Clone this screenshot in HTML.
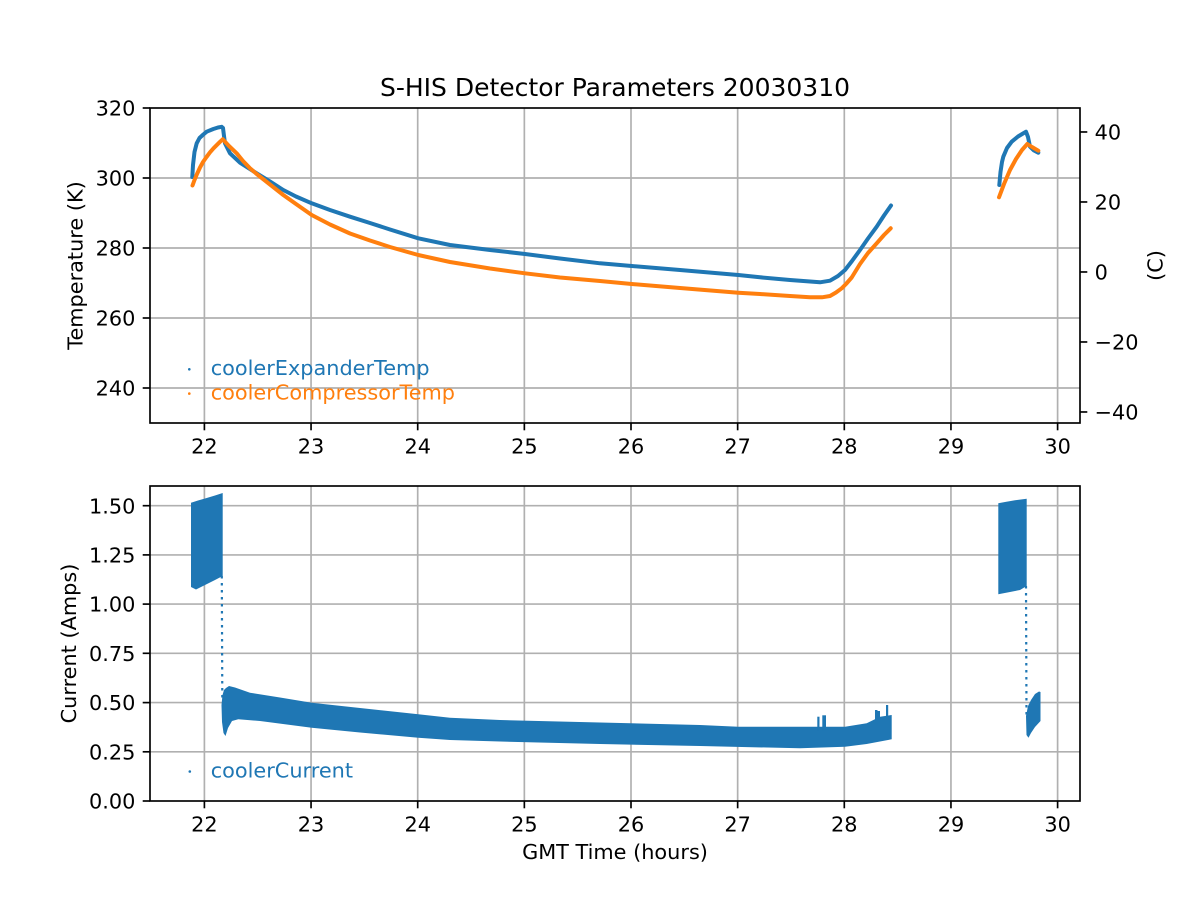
<!DOCTYPE html>
<html>
<head>
<meta charset="utf-8">
<style>
html,body{margin:0;padding:0;background:#fff;}
svg{display:block;}
text{font-family:"DejaVu Sans","Liberation Sans",sans-serif;}
</style>
</head>
<body>
<svg width="1200" height="900" viewBox="0 0 1200 900" xmlns="http://www.w3.org/2000/svg">
<rect width="1200" height="900" fill="#fff"/>
<defs>
<clipPath id="c1"><rect x="150" y="108" width="930" height="315"/></clipPath>
<clipPath id="c2"><rect x="150" y="486" width="930" height="315"/></clipPath>
</defs>

<!-- ========== TOP AXES ========== -->
<g stroke="#b0b0b0" stroke-width="1.67" fill="none">
  <line x1="204.4" y1="108" x2="204.4" y2="423"/>
  <line x1="311.05" y1="108" x2="311.05" y2="423"/>
  <line x1="417.7" y1="108" x2="417.7" y2="423"/>
  <line x1="524.35" y1="108" x2="524.35" y2="423"/>
  <line x1="631" y1="108" x2="631" y2="423"/>
  <line x1="737.65" y1="108" x2="737.65" y2="423"/>
  <line x1="844.3" y1="108" x2="844.3" y2="423"/>
  <line x1="950.95" y1="108" x2="950.95" y2="423"/>
  <line x1="1057.6" y1="108" x2="1057.6" y2="423"/>
  <line x1="150" y1="178" x2="1080" y2="178"/>
  <line x1="150" y1="248" x2="1080" y2="248"/>
  <line x1="150" y1="318" x2="1080" y2="318"/>
  <line x1="150" y1="388" x2="1080" y2="388"/>
</g>

<g clip-path="url(#c1)" fill="none" stroke-linejoin="round" stroke-linecap="round" stroke-width="4">
  <path stroke="#1f77b4" d="M192.3,177 L193,165 L194.5,152 L196.7,143.3 L199.5,138 L203.3,134.5 L206.7,131.7 L213.3,129 L218,127.5 L221.7,126.8 L223,128 L224,136 L225,143.3 L230,153.3 L240,162.7 L256.7,173.3 L270,181.5 L283.3,190 L296,196.5 L311.7,203.3 L330,210 L350,216.7 L370,223 L390,229.5 L418.3,238.3 L450,245 L490,250 L525,254 L560,258.5 L600,263.3 L631.7,266 L680,270 L738.3,275 L760,277.3 L790,280 L820,282.3 L830,280.7 L838,276 L845,270 L852,261 L860,250 L868,238.5 L876.7,226.7 L884,215.5 L891,205.5"/>
  <path stroke="#ff7f0e" d="M192.5,185.5 L194.5,180 L197,174 L200,167.5 L203,162 L206.5,157 L210,152.3 L213.5,148.3 L217,144.8 L220,141.8 L222.7,139.3 L229,146 L236.7,153.3 L243,161 L250,168.3 L256.7,174 L270,184.5 L283.3,195 L296,204 L311.7,215 L330,224.5 L350,233.5 L370,240.5 L390,247 L418.3,255 L450,262 L490,268.5 L525,273.3 L560,277.5 L600,281 L631.7,284 L680,288 L738.3,292.7 L760,294 L790,296 L810,297.3 L822,297.3 L830,296 L836,292.5 L841.7,288.3 L846,284 L851.7,277.5 L856,270.5 L860,264 L868,253 L876.7,243.3 L884,235 L890.7,228.3"/>
  <path stroke="#1f77b4" d="M999.3,185 L1000.5,172 L1002,162 L1003.3,156.7 L1007,148 L1011.7,141.7 L1018,136.5 L1023,133.5 L1026,131.7 L1028,137 L1030,146.7 L1034,150.5 L1038.3,152.7"/>
  <path stroke="#ff7f0e" d="M999,197.3 L1004,184 L1010,170 L1016,159 L1022,150 L1027.3,144 L1032,147 L1038.3,150.7"/>
</g>

<rect x="150" y="108" width="930" height="315" fill="none" stroke="#000" stroke-width="1.67"/>
<g stroke="#000" stroke-width="1.67">
  <line x1="204.4" y1="423" x2="204.4" y2="430.3"/>
  <line x1="311.05" y1="423" x2="311.05" y2="430.3"/>
  <line x1="417.7" y1="423" x2="417.7" y2="430.3"/>
  <line x1="524.35" y1="423" x2="524.35" y2="430.3"/>
  <line x1="631" y1="423" x2="631" y2="430.3"/>
  <line x1="737.65" y1="423" x2="737.65" y2="430.3"/>
  <line x1="844.3" y1="423" x2="844.3" y2="430.3"/>
  <line x1="950.95" y1="423" x2="950.95" y2="430.3"/>
  <line x1="1057.6" y1="423" x2="1057.6" y2="430.3"/>
  <line x1="142.7" y1="108" x2="150" y2="108"/>
  <line x1="142.7" y1="178" x2="150" y2="178"/>
  <line x1="142.7" y1="248" x2="150" y2="248"/>
  <line x1="142.7" y1="318" x2="150" y2="318"/>
  <line x1="142.7" y1="388" x2="150" y2="388"/>
  <line x1="1080" y1="131.98" x2="1087.3" y2="131.98"/>
  <line x1="1080" y1="201.98" x2="1087.3" y2="201.98"/>
  <line x1="1080" y1="271.98" x2="1087.3" y2="271.98"/>
  <line x1="1080" y1="341.98" x2="1087.3" y2="341.98"/>
  <line x1="1080" y1="411.98" x2="1087.3" y2="411.98"/>
</g>
<g font-size="20.83" fill="#000">
  <g text-anchor="middle">
    <text x="204.4" y="453.4">22</text>
    <text x="311.05" y="453.4">23</text>
    <text x="417.7" y="453.4">24</text>
    <text x="524.35" y="453.4">25</text>
    <text x="631" y="453.4">26</text>
    <text x="737.65" y="453.4">27</text>
    <text x="844.3" y="453.4">28</text>
    <text x="950.95" y="453.4">29</text>
    <text x="1057.6" y="453.4">30</text>
  </g>
  <g text-anchor="end">
    <text x="135.4" y="115.6">320</text>
    <text x="135.4" y="185.6">300</text>
    <text x="135.4" y="255.6">280</text>
    <text x="135.4" y="325.6">260</text>
    <text x="135.4" y="395.6">240</text>
  </g>
  <g text-anchor="start">
    <text x="1094.6" y="139.6">40</text>
    <text x="1094.6" y="209.6">20</text>
    <text x="1094.6" y="279.6">0</text>
    <text x="1094.6" y="349.6">−20</text>
    <text x="1094.6" y="419.6">−40</text>
  </g>
  <text transform="translate(82.5,265.5) rotate(-90)" text-anchor="middle">Temperature (K)</text>
  <text transform="translate(1162.7,265.5) rotate(-90)" text-anchor="middle">(C)</text>
</g>
<text x="615" y="96" text-anchor="middle" font-size="25" fill="#000">S-HIS Detector Parameters 20030310</text>

<circle cx="189.3" cy="369.3" r="1.3" fill="#1f77b4"/>
<circle cx="189.3" cy="393.6" r="1.3" fill="#ff7f0e"/>
<text x="210.7" y="375" font-size="20.83" fill="#1f77b4">coolerExpanderTemp</text>
<text x="210.7" y="399.4" font-size="20.83" fill="#ff7f0e">coolerCompressorTemp</text>

<!-- ========== BOTTOM AXES ========== -->
<g stroke="#b0b0b0" stroke-width="1.67" fill="none">
  <line x1="204.4" y1="486" x2="204.4" y2="801"/>
  <line x1="311.05" y1="486" x2="311.05" y2="801"/>
  <line x1="417.7" y1="486" x2="417.7" y2="801"/>
  <line x1="524.35" y1="486" x2="524.35" y2="801"/>
  <line x1="631" y1="486" x2="631" y2="801"/>
  <line x1="737.65" y1="486" x2="737.65" y2="801"/>
  <line x1="844.3" y1="486" x2="844.3" y2="801"/>
  <line x1="950.95" y1="486" x2="950.95" y2="801"/>
  <line x1="1057.6" y1="486" x2="1057.6" y2="801"/>
  <line x1="150" y1="505.7" x2="1080" y2="505.7"/>
  <line x1="150" y1="554.9" x2="1080" y2="554.9"/>
  <line x1="150" y1="604.1" x2="1080" y2="604.1"/>
  <line x1="150" y1="653.3" x2="1080" y2="653.3"/>
  <line x1="150" y1="702.6" x2="1080" y2="702.6"/>
  <line x1="150" y1="751.8" x2="1080" y2="751.8"/>
</g>

<g clip-path="url(#c2)" fill="#1f77b4">
  <polygon points="191,502.7 198,500.5 205,498.5 215,495.5 222.7,493 222.7,576 215,580 205,585 196,589.5 191,587"/>
  <line x1="221.8" y1="576" x2="222.3" y2="700" stroke="#1f77b4" stroke-width="2.2" stroke-dasharray="2.5 4.5"/>
  <polygon points="221.5,705 222.5,695 224,690 226,688 229,686 235,687.5 250,692.7 280,697.5 311.7,702.7 360,708 418.3,714.3 450,717.7 500,720 600,722.5 700,725 738.3,726.7 845,726.7 866.7,723.3 880,716.7 891.7,715 891.7,739.3 866.7,744 845,746.7 800,748.3 700,746 600,744 500,741.5 450,740 418.3,737.7 360,732.5 311.7,727.7 260,721 238.3,719.3 232,721 228,728 225.5,736 223.5,733 222,722"/>
  <rect x="817.3" y="716.7" width="2.2" height="14"/>
  <rect x="822.3" y="715.3" width="3.7" height="15"/>
  <rect x="875" y="710" width="2.5" height="12"/>
  <rect x="877" y="711" width="3" height="10"/>
  <rect x="886" y="705" width="2.2" height="12"/>
  <polygon points="998.3,503.3 1005,502 1015,500.3 1026.7,498.7 1026.7,586 1020,590 1010,592 998.3,594.3"/>
  <line x1="1026" y1="586" x2="1026.5" y2="716" stroke="#1f77b4" stroke-width="2.2" stroke-dasharray="2.5 4.5"/>
  <polygon points="1026,716 1028,706 1031,700 1035,694 1039,691.5 1040.5,692 1040.5,721 1035,727 1031,733 1028.5,737.7 1026.5,735"/>
</g>

<rect x="150" y="486" width="930" height="315" fill="none" stroke="#000" stroke-width="1.67"/>
<g stroke="#000" stroke-width="1.67">
  <line x1="204.4" y1="801" x2="204.4" y2="808.3"/>
  <line x1="311.05" y1="801" x2="311.05" y2="808.3"/>
  <line x1="417.7" y1="801" x2="417.7" y2="808.3"/>
  <line x1="524.35" y1="801" x2="524.35" y2="808.3"/>
  <line x1="631" y1="801" x2="631" y2="808.3"/>
  <line x1="737.65" y1="801" x2="737.65" y2="808.3"/>
  <line x1="844.3" y1="801" x2="844.3" y2="808.3"/>
  <line x1="950.95" y1="801" x2="950.95" y2="808.3"/>
  <line x1="1057.6" y1="801" x2="1057.6" y2="808.3"/>
  <line x1="142.7" y1="505.7" x2="150" y2="505.7"/>
  <line x1="142.7" y1="554.9" x2="150" y2="554.9"/>
  <line x1="142.7" y1="604.1" x2="150" y2="604.1"/>
  <line x1="142.7" y1="653.3" x2="150" y2="653.3"/>
  <line x1="142.7" y1="702.6" x2="150" y2="702.6"/>
  <line x1="142.7" y1="751.8" x2="150" y2="751.8"/>
  <line x1="142.7" y1="801" x2="150" y2="801"/>
</g>
<g font-size="20.83" fill="#000">
  <g text-anchor="middle">
    <text x="204.4" y="831.4">22</text>
    <text x="311.05" y="831.4">23</text>
    <text x="417.7" y="831.4">24</text>
    <text x="524.35" y="831.4">25</text>
    <text x="631" y="831.4">26</text>
    <text x="737.65" y="831.4">27</text>
    <text x="844.3" y="831.4">28</text>
    <text x="950.95" y="831.4">29</text>
    <text x="1057.6" y="831.4">30</text>
  </g>
  <g text-anchor="end">
    <text x="135.4" y="513.3">1.50</text>
    <text x="135.4" y="562.5">1.25</text>
    <text x="135.4" y="611.7">1.00</text>
    <text x="135.4" y="660.9">0.75</text>
    <text x="135.4" y="710.2">0.50</text>
    <text x="135.4" y="759.4">0.25</text>
    <text x="135.4" y="808.6">0.00</text>
  </g>
  <text transform="translate(76,643.5) rotate(-90)" text-anchor="middle">Current (Amps)</text>
  <text x="615" y="859" text-anchor="middle">GMT Time (hours)</text>
</g>

<circle cx="189.8" cy="771.5" r="1.3" fill="#1f77b4"/>
<text x="210.7" y="777.5" font-size="20.83" fill="#1f77b4">coolerCurrent</text>
</svg>
</body>
</html>
